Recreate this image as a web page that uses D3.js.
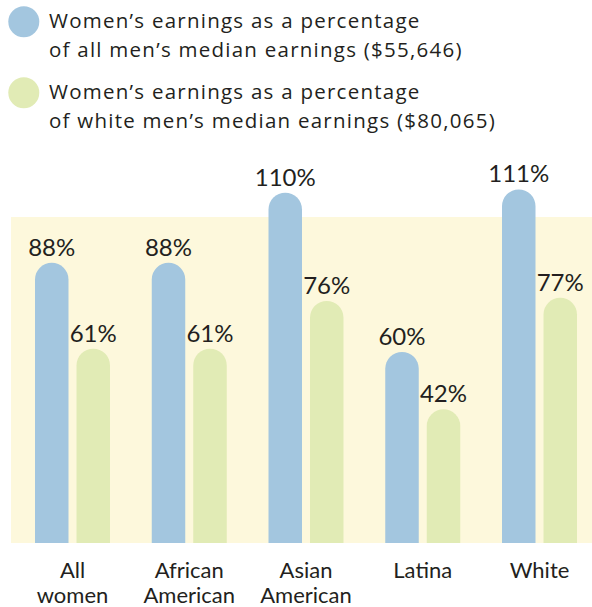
<!DOCTYPE html>
<html>
<head>
<meta charset="utf-8">
<script src="https://cdn.jsdelivr.net/npm/d3@7"></script>
<style>
  html, body { margin: 0; padding: 0; background: #fff; }
  svg { display: block; }
  text { font-family: Lato, "Open Sans", sans-serif; fill: #231f20; }
</style>
</head>
<body>
<svg id="chart" width="592" height="607"></svg>
<script>
// ---- data ----
const categories = [["All", "women"], ["African", "American"], ["Asian", "American"], ["Latina"], ["White"]];
const categoryKeys = ["All women", "African American", "Asian American", "Latina", "White"];
const allMenPct = [88, 88, 110, 60, 111];
const whiteMenPct = [61, 61, 76, 42, 77];
const seriesNames = [
  ["Women\u2019s earnings as a percentage", "of all men\u2019s median earnings ($55,646)"],
  ["Women\u2019s earnings as a percentage", "of white men\u2019s median earnings ($80,065)"]
];
const seriesColors = ["#a3c6df", "#e1ebb5"];

// ---- layout ----
const svg = d3.select("#chart");
const plot = { left: 11, right: 592, top: 217, bottom: 543 };

const x0 = d3.scaleBand().domain(categoryKeys).range([18, 18 + 5 * 116.75]);
const barW = 33.5, gap = 8;
const x1 = d3.scaleOrdinal().domain([0, 1]).range([0, barW + gap]);
const y = d3.scaleLinear().domain([0, 100]).range([plot.bottom, plot.bottom - 318.5]);

// background panel
svg.append("rect")
  .attr("x", plot.left).attr("y", plot.top)
  .attr("width", plot.right - plot.left).attr("height", plot.bottom - plot.top)
  .attr("fill", "#fdf8dc");

// legend
const legend = svg.append("g");
seriesNames.forEach((lines, i) => {
  const g = legend.append("g").attr("transform", `translate(0,${i * 71})`);
  g.append("circle").attr("cx", 23.8).attr("cy", 21.7).attr("r", 15.5).attr("fill", seriesColors[i]);
  const t = g.append("text").attr("x", 49).attr("y", 28)
    .style("font-family", "'Open Sans', sans-serif")
    .style("font-size", "20.5px").style("letter-spacing", "1.25px");
  lines.forEach((line, j) => {
    t.append("tspan").attr("x", 49).attr("dy", j === 0 ? 0 : 29).text(line);
  });
});

// bars
function barPath(x, w, yTop, yBottom) {
  const r = w / 2;
  return `M${x},${yBottom} L${x},${yTop + r} A${r},${r} 0 0 1 ${x + w},${yTop + r} L${x + w},${yBottom} Z`;
}

const series = [allMenPct, whiteMenPct];
series.forEach((vals, si) => {
  const g = svg.append("g");
  categoryKeys.forEach((c, ci) => {
    const bx = x0(c) + 17 + x1(si);
    const yt = y(vals[ci]);
    g.append("path").attr("d", barPath(bx, barW, yt, plot.bottom)).attr("fill", seriesColors[si]);
    g.append("text").attr("x", bx + barW / 2).attr("y", yt - 7)
      .attr("text-anchor", "middle").style("font-size", "24px")
      .text(vals[ci] + "%");
  });
});

// category labels
categoryKeys.forEach((c, ci) => {
  const cx = x0(c) + 17 + (2 * barW + gap) / 2;
  const t = svg.append("text").attr("x", cx).attr("y", 578)
    .attr("text-anchor", "middle").style("font-size", "22px");
  categories[ci].forEach((line, li) => {
    t.append("tspan").attr("x", cx).attr("dy", li === 0 ? 0 : 25).text(line);
  });
});
</script>
</body>
</html>
